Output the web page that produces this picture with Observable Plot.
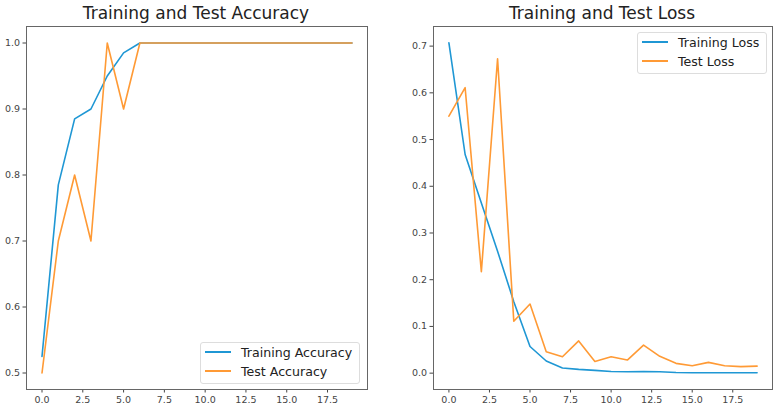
<!DOCTYPE html>
<html>
<head>
<meta charset="utf-8">
<script src="https://cdn.jsdelivr.net/npm/d3@7"></script>
<script src="https://cdn.jsdelivr.net/npm/@observablehq/plot@0.6"></script>
<style>
  body { margin: 0; background: #fff; font-family: "DejaVu Sans", sans-serif; }
  #wrap { position: relative; width: 778px; height: 410px; overflow: hidden; }
  .panel { position: absolute; top: 0; }
  .title { position: absolute; top: 3px; font-size: 17px; color: #222; white-space: nowrap; transform: translateX(-50%); }
  .legend { position: absolute; border: 1px solid #ddd; border-radius: 3px; background: rgba(255,255,255,0.85); }
  .legend .row { position: absolute; left: 0; display: flex; align-items: center; font-size: 12.6px; color: #222; white-space: nowrap; }
  .legend .sw { display: inline-block; width: 26px; height: 0; border-top: 2px solid; margin-left: 4px; margin-right: 10px; }
</style>
</head>
<body>
<div id="wrap"></div>
<script>
const epochs = [0,1,2,3,4,5,6,7,8,9,10,11,12,13,14,15,16,17,18,19];
const trainAcc = [0.525,0.785,0.885,0.9,0.95,0.985,1.0,1.0,1.0,1.0,1.0,1.0,1.0,1.0,1.0,1.0,1.0,1.0,1.0,1.0];
const testAcc  = [0.5,0.7,0.8,0.7,1.0,0.9,1.0,1.0,1.0,1.0,1.0,1.0,1.0,1.0,1.0,1.0,1.0,1.0,1.0,1.0];
const trainLoss = [0.707,0.468,0.364,0.261,0.153,0.057,0.026,0.011,0.008,0.006,0.0035,0.003,0.0035,0.003,0.0014,0.001,0.001,0.001,0.001,0.001];
const testLoss  = [0.55,0.611,0.217,0.673,0.111,0.148,0.046,0.035,0.069,0.025,0.035,0.028,0.060,0.036,0.021,0.016,0.023,0.016,0.014,0.015];
const xTicks = [0,2.5,5,7.5,10,12.5,15,17.5];
const accTicks = [0.5,0.6,0.7,0.8,0.9,1.0];
const lossTicks = [0.0,0.1,0.2,0.3,0.4,0.5,0.6,0.7];

const BLUE = "#1f97d4", ORANGE = "#ff9a35";
const fmt = d3.format(".1f");

function panel({left, width, marginLeft, marginRight, yDomain, yTicks, series}) {
  const marks = [Plot.frame({stroke: "#666", strokeWidth: 1})];
  for (const s of series) {
    const data = epochs.map((e, i) => ({x: e, y: s.values[i]}));
    marks.push(Plot.line(data, {x: "x", y: "y", stroke: s.color, strokeWidth: 1.6}));
  }
  const chart = Plot.plot({
    width, height: 410,
    marginLeft, marginRight, marginTop: 26, marginBottom: 21,
    style: {fontFamily: "DejaVu Sans, sans-serif", fontSize: "9.5px", color: "#444", background: "transparent"},
    x: {domain: [-0.95, 19.95], ticks: xTicks, tickFormat: fmt, tickSize: 3.5, tickPadding: 3, label: null},
    y: {domain: yDomain, ticks: yTicks, tickFormat: fmt, tickSize: 3.5, tickPadding: 3, label: null},
    marks
  });
  chart.classList.add("panel");
  chart.style.left = left + "px";
  return chart;
}

const wrap = document.getElementById("wrap");
wrap.appendChild(panel({left: 0, width: 389, marginLeft: 26, marginRight: 22,
  yDomain: [0.475, 1.025], yTicks: accTicks,
  series: [{values: trainAcc, color: BLUE}, {values: testAcc, color: ORANGE}]}));
wrap.appendChild(panel({left: 389, width: 389, marginLeft: 44, marginRight: 6,
  yDomain: [-0.035, 0.742], yTicks: lossTicks,
  series: [{values: trainLoss, color: BLUE}, {values: testLoss, color: ORANGE}]}));

function title(text, cx) {
  const d = document.createElement("div");
  d.className = "title"; d.textContent = text; d.style.left = cx + "px";
  wrap.appendChild(d);
}
title("Training and Test Accuracy", 196);
title("Training and Test Loss", 602);

function legend(items, x, y, w, h) {
  const d = document.createElement("div");
  d.className = "legend";
  Object.assign(d.style, {left: x + "px", top: y + "px", width: w + "px", height: h + "px"});
  items.forEach((it, i) => {
    const r = document.createElement("div");
    r.className = "row";
    r.style.top = (0 + i * 19) + "px";
    r.style.height = "18px";
    const sw = document.createElement("span");
    sw.className = "sw"; sw.style.borderTopColor = it.color;
    r.appendChild(sw);
    r.appendChild(document.createTextNode(it.label));
    d.appendChild(r);
  });
  wrap.appendChild(d);
}
legend([{label: "Training Accuracy", color: BLUE}, {label: "Test Accuracy", color: ORANGE}], 200, 342, 158, 40);
legend([{label: "Training Loss", color: BLUE}, {label: "Test Loss", color: ORANGE}], 637, 32, 128, 40);
</script>
</body>
</html>
